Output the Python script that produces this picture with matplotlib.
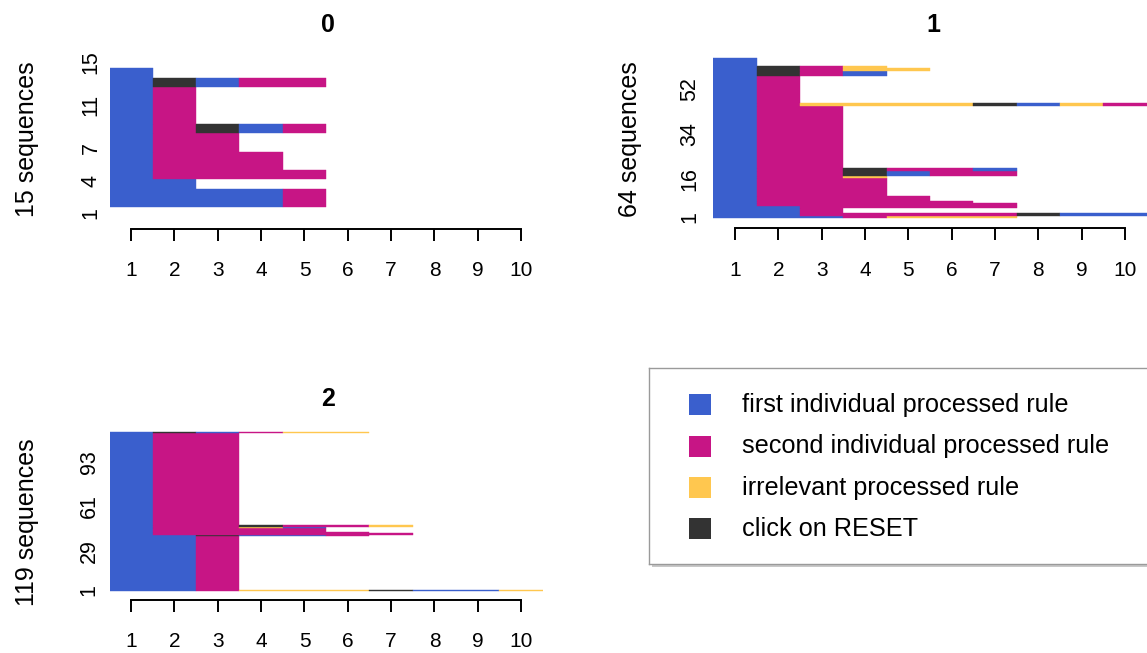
import matplotlib
matplotlib.use('Agg')
import matplotlib.pyplot as plt
from matplotlib.patches import Rectangle

plt.rcParams['font.family'] = ['Liberation Sans', 'DejaVu Sans']

# states of the sequences
state_codes = ['F', 'S', 'I', 'R']
state_labels = ['first individual processed rule', 'second individual processed rule',
                'irrelevant processed rule', 'click on RESET']
state_colors = ['#3A5FCD', '#C71585', '#FFC74F', '#333333']

group_names = ['0', '1', '2']

# distinct sequences (bottom to top) and how many times each one occurs
seqs_0 = ['FFFFS', 'FF', 'FSSSS', 'FSSS', 'FSS', 'FSRFS', 'FS', 'FRFSS', 'F']
counts_0 = [2, 1, 1, 2, 2, 1, 4, 1, 1]
yticks_0 = [1, 4, 7, 11, 15]

seqs_1 = ['FFFSIII', 'FFSSSSSRFF', 'FFS', 'FFSSSSS', 'FSSSSSS', 'FSSSSS', 'FSSSS',
          'FSSS', 'FSSI', 'FSSRFSS', 'FSSRSSF', 'FSS', 'FSIIIIRFIS', 'FS',
          'FRSF', 'FRSII', 'FRSI', 'F']
counts_1 = [1, 1, 2, 1, 1, 1, 2, 7, 1, 2, 1, 25, 1, 11, 2, 1, 1, 3]
yticks_1 = [1, 16, 34, 52]

seqs_2 = ['FFSIIIRFFI', 'FFS', 'FFRFFS', 'FSSSSSS', 'FSSSSS', 'FSSSS', 'FSSIF',
          'FSSRSSI', 'FSS', 'FRFSII']
counts_2 = [1, 40, 1, 1, 1, 3, 1, 1, 69, 1]
yticks_2 = [1, 29, 61, 93]

xticks = list(range(1, 11))

W, H = 1147, 653
fig = plt.figure(figsize=(W / 100, H / 100), dpi=100)
color_of = dict(zip(state_codes, state_colors))


def px_axes(left, top, right, bottom):
    return fig.add_axes([left / W, 1 - bottom / H, (right - left) / W, (bottom - top) / H])


def draw_panel(ax, seqs, counts, ylim, spine_y, ticks, tick_scale, tick_shift, ypad):
    y = 0
    for seq, n in zip(seqs, counts):
        start = 0
        for i in range(1, len(seq) + 1):
            if i == len(seq) or seq[i] != seq[start]:
                c = color_of[seq[start]]
                ax.bar(start + 0.5, n, width=i - start, bottom=y, align='edge',
                       color=c, edgecolor=c, linewidth=0.3)
                start = i
        y += n
    ax.set_xlim(0.5, 10.5)
    ax.set_ylim(*ylim)
    for s in ['left', 'top', 'right']:
        ax.spines[s].set_visible(False)
    ax.spines['bottom'].set_position(('data', spine_y))
    ax.spines['bottom'].set_bounds(1, 10)
    ax.spines['bottom'].set_linewidth(1.4)
    ax.set_xticks(xticks)
    ax.tick_params(axis='x', length=8.5, width=1.4, pad=15, labelsize=15)
    ax.set_yticks([tick_scale * v + tick_shift for v in ticks], [str(v) for v in ticks])
    ax.tick_params(axis='y', length=0, pad=ypad, labelsize=15.5)
    for lab in ax.get_yticklabels():
        lab.set_rotation(90)
        lab.set_va('center')
    ax.patch.set_alpha(0)


def fig_text(x, y, s, **kw):
    fig.text(x / W, 1 - y / H, s, ha='center', va='center', **kw)


ax0 = px_axes(109.5, 55.3, 542.8, 231.4)
draw_panel(ax0, seqs_0, counts_0, (-2.6, 16.4), -2.29, yticks_0, 1.163, -1.77, 5.5)
ax1 = px_axes(713.4, 56.8, 1146.7, 229.3)
draw_panel(ax1, seqs_1, counts_1, (-4.4, 64.6), -3.9, yticks_1, 1.0, -0.5, 9.5)
ax2 = px_axes(109.5, 430.3, 542.8, 600.4)
draw_panel(ax2, seqs_2, counts_2, (-7, 120), -6.35, yticks_2, 1.04, -0.3, 7)

fig_text(328, 25, group_names[0], fontsize=18, fontweight='bold')
fig_text(933, 25, group_names[1], fontsize=18, fontweight='bold')
fig_text(328, 399, group_names[2], fontsize=18, fontweight='bold')

fig_text(27, 139, f'{sum(counts_0)} sequences', rotation=90, fontsize=18)
fig_text(630, 139, f'{sum(counts_1)} sequences', rotation=90, fontsize=18)
fig_text(27, 522, f'{sum(counts_2)} sequences', rotation=90, fontsize=18)

# legend box, drawn by hand in pixel units
shadow = px_axes(652, 371, 1170, 567)
shadow.set_axis_off()
shadow.add_patch(Rectangle((0, 0), 1, 1, transform=shadow.transAxes, color='#c8c8c8'))
leg = px_axes(649.3, 368.3, 1170, 564)
leg.set_xlim(649.3, 1170)
leg.set_ylim(564, 368.3)
leg.set_xticks([])
leg.set_yticks([])
for s in leg.spines.values():
    s.set_color('#9a9a9a')
    s.set_linewidth(1)
for i, (lab, col) in enumerate(zip(state_labels, state_colors)):
    yc = 405 + i * 41.3
    leg.add_patch(Rectangle((689.3, yc - 10.5), 21.4, 21, color=col, linewidth=0))
    leg.text(741.7, yc, lab, fontsize=18.2, va='center', ha='left')

fig.savefig('out.png', dpi=100)
